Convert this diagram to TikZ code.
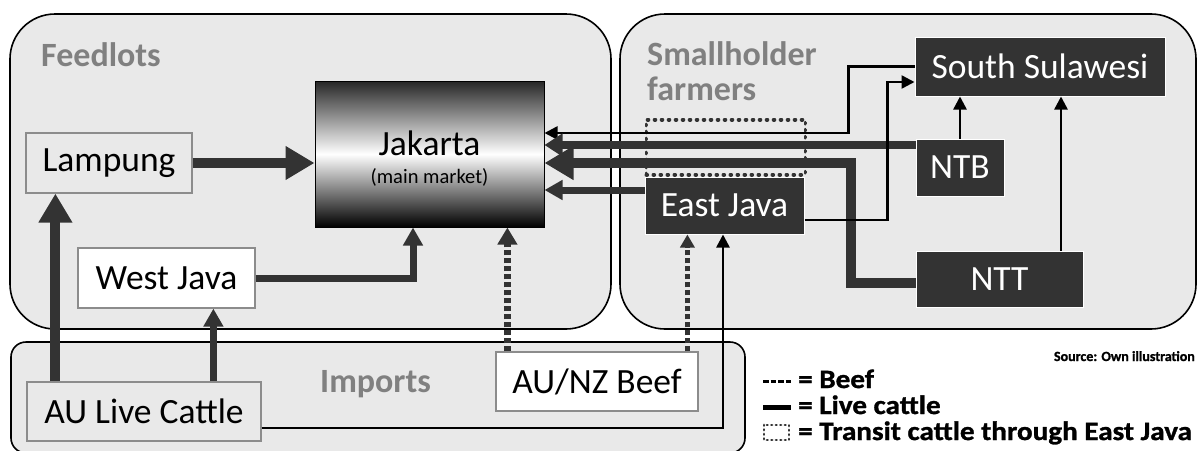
\documentclass[tikz,border=0pt]{standalone}
\usepackage{fontspec}
\setmainfont{Carlito}
\newfontfamily\legendfont[FakeStretch=1.1,BoldFeatures={FakeBold=1.2}]{Carlito}
\newfontfamily\sourcefont[BoldFeatures={FakeBold=1.2}]{Carlito}
\usetikzlibrary{arrows.meta}
\definecolor{panelgray}{RGB}{233,233,233}
\definecolor{boxdark}{RGB}{51,51,51}
\definecolor{boxedge}{RGB}{140,140,140}
\definecolor{titlegray}{RGB}{128,128,128}
\newcommand\bigtext{\fontsize{35.5}{40}\selectfont}
\begin{document}
\begin{tikzpicture}[x=1pt,y=-1pt,
  panel/.style={draw=black,line width=1.6pt,fill=panelgray},
  lightbox/.style={draw=boxedge,line width=1.2pt,fill=panelgray,inner sep=0pt,font=\bigtext},
  whitebox/.style={lightbox,fill=white},
  darkbox/.style={draw=white,line width=1pt,fill=boxdark,text=white,inner sep=0pt,font=\bigtext},
  titletxt/.style={font=\bfseries\fontsize{34}{38}\selectfont,text=titlegray,anchor=base west,inner sep=0pt},
  legendtxt/.style={font=\legendfont\bfseries\fontsize{26.5}{30}\selectfont,anchor=base west,inner sep=0pt},
  thinA/.style={draw=black,line width=2.5pt,-{Triangle[length=13pt,width=13pt]}},
  medA/.style={draw=boxdark,line width=7pt,-{Triangle[length=18pt,width=19pt]}},
  ntbA/.style={draw=boxdark,line width=8pt,-{Triangle[length=18pt,width=22pt]}},
  bigA/.style={draw=boxdark,line width=10pt,-{Triangle[length=29pt,width=32pt]}},
  beefA/.style={draw=boxdark,line width=7pt,dash pattern=on 5pt off 3pt,-{Triangle[length=17pt,width=19pt]}},
  beefB/.style={draw=boxdark,line width=5.5pt,dash pattern=on 5pt off 3pt,-{Triangle[length=13pt,width=14pt]}},
  transitbox/.style={draw=boxdark,line width=3.8pt,dash pattern=on 0.8pt off 6.2pt,line cap=round}
]
\useasboundingbox (0,0) rectangle (1202,450);

% panels
\draw[panel,rounded corners=45pt] (10,14) rectangle (611,329);
\draw[panel,rounded corners=45pt] (620,14) rectangle (1196,329);
\draw[panel,rounded corners=15pt] (11,342) rectangle (745,453);

% titles
\node[titletxt] (tfeed) at (41,66) {Feedlots};
\node[titletxt] (tsmall1) at (647,65) {Smallholder};
\node[titletxt] (tsmall2) at (647,100) {farmers};
\node[titletxt] (timp) at (320,392) {Imports};

% nodes
\node[lightbox,minimum width=166pt,minimum height=60pt] (lampung) at (109,163) {Lampung};
\node[draw=black,line width=1pt,top color=black!85,bottom color=black,middle color=white,
      minimum width=229pt,minimum height=146pt,inner sep=0pt] (jakarta) at (429.5,154) {};
\node[font=\bigtext,anchor=base,inner sep=0pt] (jaktitle) at (429.5,155) {Jakarta};
\node[font=\fontsize{20.5}{24}\selectfont,anchor=base,inner sep=0pt] (jaksub) at (429.5,183) {(main market)};
\node[whitebox,minimum width=177pt,minimum height=60pt] (westjava) at (166.5,278) {West Java};
\node[lightbox,minimum width=234pt,minimum height=59pt] (aulive) at (144,411.5) {AU Live Cattle};
\node[whitebox,minimum width=202pt,minimum height=59pt] (aunz) at (597,381.5) {AU/NZ Beef};
\node[darkbox,minimum width=159pt,minimum height=57pt] (eastjava) at (724.5,205.5) {East Java};
\node[darkbox,minimum width=250pt,minimum height=59pt] (ss) at (1040,66.5) {South Sulawesi};
\node[darkbox,minimum width=88pt,minimum height=57pt] (ntb) at (960,167.5) {NTB};
\node[darkbox,minimum width=167pt,minimum height=56pt] (ntt) at (999.5,279) {NTT};
\node[transitbox,minimum width=159pt,minimum height=55pt,anchor=south west,inner sep=0pt] (transit) at (eastjava.north west) {};

% connectors
\draw[bigA] (lampung.east) -- (lampung.east -| jakarta.west);
\draw[bigA] ([xshift=29pt]aulive.north west) -- ([xshift=29pt]aulive.north west |- lampung.south);
\draw[medA] ([xshift=187pt]aulive.north west) -- ([xshift=187pt]aulive.north west |- westjava.south);
\draw[medA] (westjava.east) -| ([xshift=-16.5pt]jakarta.south);
\draw[beefA] ([xshift=12pt]aunz.north west) -- ([xshift=12pt]aunz.north west |- jakarta.south);
\draw[beefB] ([xshift=192pt]aunz.north west) -- ([xshift=192pt]aunz.north west |- eastjava.south);
\draw[thinA] ([yshift=-16.5pt]aulive.east) -| ([xshift=-1.5pt]eastjava.south);
\draw[thinA] (ss.west) -- ++(-66,0) |- ([yshift=21pt]jakarta.east);
\draw[ntbA] ([yshift=22.5pt]ntb.west) -- ([yshift=22.5pt]ntb.west -| jakarta.east);
\draw[bigA] ([yshift=-4pt]ntt.west) -- ++(-65,0) |- ([yshift=-9pt]jakarta.east);
\draw[medA] ([yshift=15.5pt]eastjava.west) -- ([yshift=15.5pt]eastjava.west -| jakarta.east);
\draw[thinA] ([yshift=-14.5pt]eastjava.east) -- ++(83,0) |- ([yshift=-15.5pt]ss.west);
\draw[thinA] (ntb.north) -- (ntb.north |- ss.south);
\draw[thinA] ([xshift=61.5pt]ntt.north) -- ([xshift=61.5pt]ntt.north |- ss.south);

% legend
\node[font=\sourcefont\bfseries\fontsize{14}{16}\selectfont,anchor=base east,inner sep=0pt] (source) at (1195,361) {Source: Own illustration};
\draw[draw=black,line width=3pt,dash pattern=on 5.5pt off 2pt] (763,381) -- (791,381);
\node[legendtxt] (lbeef) at (798,388) {= Beef};
\draw[draw=black,line width=5pt] (763,407) -- (791,407);
\node[legendtxt] (llive) at (798,414) {= Live cattle};
\draw[transitbox,line width=2.8pt,dash pattern=on 0.6pt off 3.9pt] (764,425) rectangle (789,440);
\node[legendtxt] (ltransit) at (798,440) {= Transit cattle through East Java};
\end{tikzpicture}
\end{document}
